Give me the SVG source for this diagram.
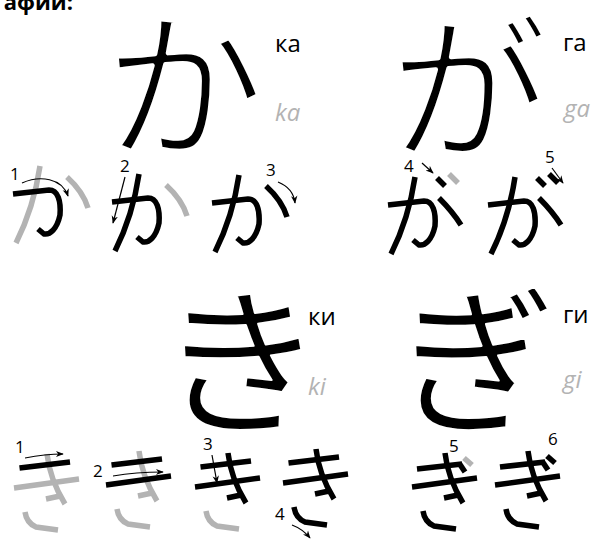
<svg xmlns="http://www.w3.org/2000/svg" xmlns:xlink="http://www.w3.org/1999/xlink" width="595" height="539" viewBox="0 0 595 539">
<style>
.big{font-family:"Noto Sans CJK JP","Noto Sans CJK SC",sans-serif;fill:#000;stroke:#fff;stroke-width:4.5;stroke-linejoin:round}
.bigk{font-family:"Noto Sans CJK JP","Noto Sans CJK SC",sans-serif;fill:#000;stroke:#fff;stroke-width:2;stroke-linejoin:round}
.lab{font-family:"Open Sans","Noto Sans",sans-serif;font-size:24px;fill:#000}
.rom{font-family:"Open Sans","Noto Sans",sans-serif;font-size:24px;font-style:italic;fill:#b3b3b3}
.num{font-family:"Open Sans","Noto Sans",sans-serif;font-size:17px;fill:#000}
.b{fill:none;stroke:#000;stroke-width:5.5}
.g{fill:none;stroke:#b3b3b3;stroke-width:5.5}
.arr{fill:none;stroke:#000;stroke-width:1.2;marker-end:url(#ah)}
</style>
<defs>
<marker id="ah" viewBox="0 0 10 10" refX="9" refY="5" markerWidth="8" markerHeight="8" orient="auto" markerUnits="userSpaceOnUse"><path d="M0,1 L10,5 L0,9 L3,5 Z" fill="#000"/></marker>
<path id="ka1" d="M0,28 L36,24 C45,24 48,35 47,49 C44,63 37,69 31,68 L25,63"/>
<path id="ka2" d="M27,0 C23,27 14,55 3,77"/>
<path id="ka3" d="M54,11 C65,21 72,32 75,42"/>
<path id="ga3" d="M51,21 C60,30 68,40 73,48"/>
<path id="gd1" d="M49,1 L57,9"/>
<path id="gd2" d="M61,-3 L70,6"/>
<path id="ki1" d="M5.5,14 L56,8"/>
<path id="ki2" d="M0,34 L65,25"/>
<path id="ki3" d="M33,0 C35,18 40,32 51,50 M32,45 L46,42"/>
<path id="ki4" d="M11,58 C12,65 15,70 22,73 L44,76"/>
<path id="gi1" d="M5,16 L50,11"/>
<path id="gid1" d="M47,10 L53,19"/>
<path id="gid2" d="M52,5 L60,12"/>
</defs>

<text x="73" y="10" text-anchor="end" font-family="Open Sans, sans-serif" font-weight="bold" font-size="22">афии:</text>

<g id="ka-big"><text class="big" x="104" y="146" font-size="160">か</text><text class="lab" x="275" y="52">ка</text><text class="rom" x="275" y="121">ka</text></g>
<g id="ga-big"><text class="big" x="390" y="148" font-size="158">が</text><text class="lab" x="563" y="51">га</text><text class="rom" x="564" y="117">ga</text></g>
<g id="ki-big"><text class="bigk" transform="translate(157,422) scale(1.05,1)" x="0" y="0" font-size="160">き</text><text class="lab" x="308" y="325">ки</text><text class="rom" x="308" y="395">ki</text></g>
<g id="gi-big"><text class="bigk" x="396" y="422" font-size="160">ぎ</text><text class="lab" x="563" y="323">ги</text><text class="rom" x="563" y="388">gi</text></g>

<g id="ka-step1" transform="translate(13,166)"><use href="#ka2" class="g"/><use href="#ka3" class="g"/><use href="#ka1" class="b"/></g>
<g id="ka-step2" transform="translate(112,174)"><use href="#ka3" class="g"/><use href="#ka1" class="b"/><use href="#ka2" class="b"/></g>
<g id="ka-step3" transform="translate(212,175)"><use href="#ka1" class="b"/><use href="#ka2" class="b"/><use href="#ka3" class="b"/></g>
<g id="ga-step4" transform="translate(388,177)"><use href="#gd2" class="g"/><use href="#ka1" class="b"/><use href="#ka2" class="b"/><use href="#ga3" class="b"/><use href="#gd1" class="b"/></g>
<g id="ga-step5" transform="translate(488,177)"><use href="#ka1" class="b"/><use href="#ka2" class="b"/><use href="#ga3" class="b"/><use href="#gd1" class="b"/><use href="#gd2" class="b"/></g>

<g id="ki-step1" transform="translate(14,454)"><use href="#ki2" class="g"/><use href="#ki3" class="g"/><use href="#ki4" class="g"/><use href="#ki1" class="b"/></g>
<g id="ki-step2" transform="translate(106,451)"><use href="#ki3" class="g"/><use href="#ki4" class="g"/><use href="#ki1" class="b"/><use href="#ki2" class="b"/></g>
<g id="ki-step3" transform="translate(195,453)"><use href="#ki4" class="g"/><use href="#ki1" class="b"/><use href="#ki2" class="b"/><use href="#ki3" class="b"/></g>
<g id="ki-step4" transform="translate(283,449)"><use href="#ki1" class="b"/><use href="#ki2" class="b"/><use href="#ki3" class="b"/><use href="#ki4" class="b"/></g>
<g id="gi-step5" transform="translate(412,453)"><use href="#gid2" class="g"/><use href="#gi1" class="b"/><use href="#ki2" class="b"/><use href="#ki3" class="b"/><use href="#ki4" class="b"/><use href="#gid1" class="b"/></g>
<g id="gi-step6" transform="translate(495,451)"><use href="#gi1" class="b"/><use href="#ki2" class="b"/><use href="#ki3" class="b"/><use href="#ki4" class="b"/><use href="#gid1" class="b"/><use href="#gid2" class="b"/></g>

<g id="connectors">
<path class="arr" d="M22,183 C40,175 62,178 68,196"/>
<path class="arr" d="M125,177 L113,223"/>
<path class="arr" d="M278,182 C288,186 294,194 295,203"/>
<path class="arr" d="M422,163 L433,173"/>
<path class="arr" d="M552,168 L563,183"/>
<path class="arr" d="M25,458 C40,455 52,454 63,454"/>
<path class="arr" d="M113,476 C130,473 147,472 163,472"/>
<path class="arr" d="M212,455 L217,483"/>
<path class="arr" d="M292,525 C300,528 306,533 310,538"/>
</g>
<g id="numbers">
<text class="num" x="10" y="180">1</text>
<text class="num" x="120" y="172">2</text>
<text class="num" x="266" y="176">3</text>
<text class="num" x="404" y="172">4</text>
<text class="num" x="545" y="163">5</text>
<text class="num" x="15" y="453">1</text>
<text class="num" x="93" y="477">2</text>
<text class="num" x="203" y="450">3</text>
<text class="num" x="275" y="520">4</text>
<text class="num" x="449" y="452">5</text>
<text class="num" x="548" y="445">6</text>
</g>
</svg>
